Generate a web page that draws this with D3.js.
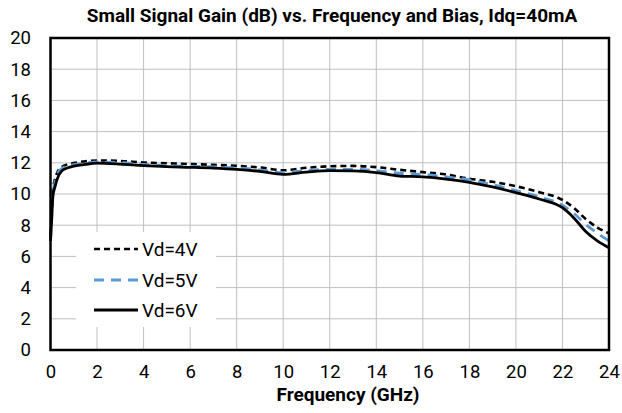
<!DOCTYPE html>
<html>
<head>
<meta charset="utf-8">
<script src="https://cdn.jsdelivr.net/npm/d3@7"></script>
<style>
  html, body { margin: 0; padding: 0; background: #fff; }
  svg { display: block; font-family: Roboto, "Noto Sans", sans-serif; }
</style>
</head>
<body>
<svg id="chart" width="622" height="413"></svg>
<script>
const titleText = "Small Signal Gain (dB) vs. Frequency and Bias, Idq=40mA";
const xTitle = "Frequency (GHz)";
const xTicks = [0, 2, 4, 6, 8, 10, 12, 14, 16, 18, 20, 22, 24];
const yTicks = [0, 2, 4, 6, 8, 10, 12, 14, 16, 18, 20];

const freq = [0, 0.05, 0.1, 0.2, 0.3, 0.5, 0.75, 1, 1.5, 2, 3, 4, 5, 6, 7, 8, 9, 10, 11, 12, 13, 14, 15, 16, 17, 18, 19, 20, 21, 22, 22.5, 23, 23.5, 24];
const gainVd4 = [7.4, 9.0, 10.2, 11.0, 11.4, 11.75, 11.9, 11.98, 12.1, 12.15, 12.12, 12.02, 11.97, 11.92, 11.87, 11.8, 11.7, 11.52, 11.68, 11.78, 11.8, 11.72, 11.55, 11.4, 11.25, 10.98, 10.78, 10.5, 10.12, 9.62, 9.1, 8.4, 7.85, 7.48];
const gainVd5 = [7.0, 8.5, 9.9, 10.8, 11.3, 11.65, 11.8, 11.88, 11.98, 12.05, 12.02, 11.9, 11.82, 11.78, 11.74, 11.67, 11.55, 11.37, 11.5, 11.58, 11.58, 11.5, 11.33, 11.26, 11.1, 10.9, 10.6, 10.21, 9.82, 9.29, 8.75, 8.05, 7.5, 6.99];
const gainVd6 = [7.0, 8.3, 9.8, 10.5, 11.0, 11.5, 11.68, 11.78, 11.9, 11.98, 11.92, 11.82, 11.75, 11.71, 11.66, 11.58, 11.45, 11.26, 11.4, 11.5, 11.48, 11.37, 11.15, 11.1, 10.96, 10.75, 10.45, 10.09, 9.68, 9.12, 8.45, 7.6, 7.0, 6.56];
const seriesNames = ["Vd=4V", "Vd=5V", "Vd=6V"];

const series = [
  { name: seriesNames[0], values: gainVd4, color: "#000000", dash: "6,4", width: 2.6 },
  { name: seriesNames[1], values: gainVd5, color: "#5b9bd5", dash: "10,7", width: 2.8 },
  { name: seriesNames[2], values: gainVd6, color: "#000000", dash: null, width: 2.8 }
];

const svg = d3.select("#chart");
const L = 50.5, R = 609, T = 38, B = 350;
const x = d3.scaleLinear().domain([0, 24]).range([L, R]);
const y = d3.scaleLinear().domain([0, 20]).range([B, T]);

// grid
const grid = svg.append("g");
grid.selectAll("line.v").data(xTicks.slice(1, -1)).enter().append("line")
  .attr("x1", d => x(d)).attr("x2", d => x(d)).attr("y1", T).attr("y2", B)
  .attr("stroke", "#bfbfbf").attr("stroke-width", 1);
grid.selectAll("line.h").data(yTicks.slice(1, -1)).enter().append("line")
  .attr("x1", L).attr("x2", R).attr("y1", d => y(d)).attr("y2", d => y(d))
  .attr("stroke", "#bfbfbf").attr("stroke-width", 1);

// axes (labels only)
const xAxis = svg.append("g").attr("transform", `translate(0,${B})`)
  .call(d3.axisBottom(x).tickValues(xTicks).tickSize(0).tickPadding(15));
xAxis.select(".domain").remove();
xAxis.selectAll("text").attr("font-size", 18.5).attr("fill", "#000").attr("font-family", "Roboto");

const yAxis = svg.append("g").attr("transform", `translate(${L},0)`)
  .call(d3.axisLeft(y).tickValues(yTicks).tickSize(0).tickPadding(19.5));
yAxis.select(".domain").remove();
yAxis.selectAll("text").attr("font-size", 18.5).attr("fill", "#000").attr("font-family", "Roboto");

// legend background
const lg = svg.append("g");
lg.append("rect").attr("x", 76).attr("y", 232).attr("width", 140).attr("height", 95).attr("fill", "#fff");

// lines
const line = d3.line().x((d, i) => x(freq[i])).y(d => y(d)).curve(d3.curveMonotoneX);
svg.append("g").selectAll("path").data(series).enter().append("path")
  .attr("d", d => line(d.values))
  .attr("fill", "none")
  .attr("stroke", d => d.color)
  .attr("stroke-width", d => d.width)
  .attr("stroke-dasharray", d => d.dash)
  .attr("stroke-linejoin", "round");

// legend entries
const ly = [249, 280, 310];
series.forEach((s, i) => {
  lg.append("line").attr("x1", 94).attr("x2", 138).attr("y1", ly[i]).attr("y2", ly[i])
    .attr("stroke", s.color).attr("stroke-width", s.width).attr("stroke-dasharray", s.dash);
  lg.append("text").attr("x", 142).attr("y", ly[i]).attr("dy", "0.35em")
    .attr("font-size", 19).attr("fill", "#000").text(s.name);
});

// plot border
svg.append("rect").attr("x", L).attr("y", T).attr("width", R - L).attr("height", B - T)
  .attr("fill", "none").attr("stroke", "#000").attr("stroke-width", 2.5);

// titles
svg.append("text").attr("x", 332).attr("y", 21.7).attr("text-anchor", "middle")
  .attr("font-size", 19).attr("font-weight", "bold").attr("fill", "#000").text(titleText);
svg.append("text").attr("x", 348).attr("y", 401).attr("text-anchor", "middle")
  .attr("font-size", 19).attr("font-weight", "bold").attr("fill", "#000").text(xTitle);
</script>
</body>
</html>
